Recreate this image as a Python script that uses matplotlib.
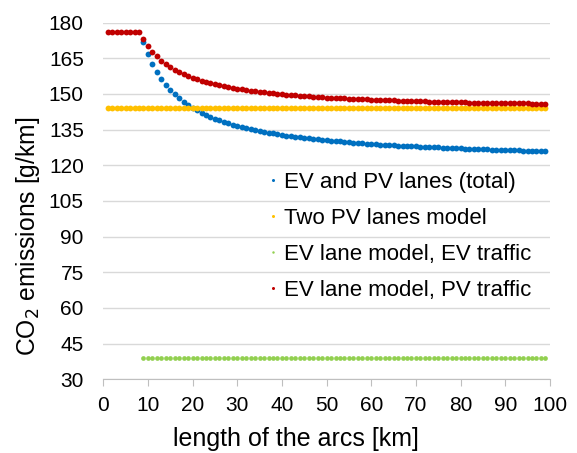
import matplotlib.pyplot as plt

plt.rcParams['font.family'] = ['Liberation Sans', 'DejaVu Sans']

# arc length [km]
x_flat = list(range(1, 9))
x_all = list(range(1, 100))
x_ev = list(range(9, 100))

# CO2 emissions [g/km]
red_flat = [176] * 8
two_pv = [144] * 99
ev_traffic = [39] * 91

total = [172.0, 166.9, 162.8, 159.3, 156.4, 153.9, 151.7, 149.8, 148.2, 146.7,
         145.3, 144.2, 143.1, 142.1, 141.2, 140.4, 139.6, 138.9, 138.3, 137.7,
         137.1, 136.6, 136.1, 135.6, 135.2, 134.8, 134.4, 134.0, 133.7, 133.4,
         133.1, 132.8, 132.5, 132.2, 132.0, 131.7, 131.5, 131.3, 131.1, 130.9,
         130.7, 130.5, 130.3, 130.2, 130.0, 129.8, 129.7, 129.5, 129.4, 129.2,
         129.1, 129.0, 128.9, 128.7, 128.6, 128.5, 128.4, 128.3, 128.2, 128.1,
         128.0, 127.9, 127.8, 127.7, 127.6, 127.5, 127.5, 127.4, 127.3, 127.2,
         127.2, 127.1, 127.0, 126.9, 126.9, 126.8, 126.8, 126.7, 126.6, 126.6,
         126.5, 126.5, 126.4, 126.3, 126.3, 126.2, 126.2, 126.1, 126.1, 126.0,
         126.0]

pv_traffic = [173.3, 170.3, 167.8, 165.8, 164.0, 162.5, 161.2, 160.1, 159.1, 158.2,
              157.4, 156.7, 156.1, 155.5, 154.9, 154.4, 154.0, 153.6, 153.2, 152.8,
              152.5, 152.2, 151.9, 151.6, 151.3, 151.1, 150.9, 150.7, 150.5, 150.3,
              150.1, 149.9, 149.7, 149.6, 149.4, 149.3, 149.1, 149.0, 148.9, 148.8,
              148.7, 148.5, 148.4, 148.3, 148.2, 148.1, 148.0, 148.0, 147.9, 147.8,
              147.7, 147.6, 147.6, 147.5, 147.4, 147.4, 147.3, 147.2, 147.2, 147.1,
              147.0, 147.0, 146.9, 146.9, 146.8, 146.8, 146.7, 146.7, 146.6, 146.6,
              146.5, 146.5, 146.5, 146.4, 146.4, 146.3, 146.3, 146.3, 146.2, 146.2,
              146.2, 146.1, 146.1, 146.1, 146.0, 146.0, 146.0, 145.9, 145.9, 145.9,
              145.8]

labels = ['EV and PV lanes (total)', 'Two PV lanes model',
          'EV lane model, EV traffic', 'EV lane model, PV traffic']
colors = ['#0070C0', '#FFC000', '#92D050', '#C00000']

fig = plt.figure(figsize=(5.77, 4.53), dpi=100)
ax = fig.add_axes([0.179, 0.163, 0.774, 0.787])

ms = 4.2
ax.plot(x_ev, total, 'o', color=colors[0], ms=ms, mew=0, label=labels[0], zorder=3)
ax.plot(x_all, two_pv, 'o', color=colors[1], ms=ms, mew=0, label=labels[1], zorder=3)
ax.plot(x_ev, ev_traffic, 'o', color=colors[2], ms=3.4, mew=0, label=labels[2], zorder=3)
ax.plot(x_flat + x_ev, red_flat + pv_traffic, 'o', color=colors[3], ms=ms, mew=0,
        label=labels[3], zorder=3)

ax.set_xlim(0, 100)
ax.set_ylim(30, 180)
ax.set_xticks(range(0, 101, 10))
ax.set_yticks(range(30, 181, 15))
ax.grid(axis='y', color='#D9D9D9', lw=1)
ax.set_axisbelow(True)
for s in ['top', 'right', 'left']:
    ax.spines[s].set_visible(False)
ax.spines['bottom'].set_color('#BFBFBF')
ax.tick_params(axis='x', direction='out', length=5, color='#BFBFBF', labelsize=15, pad=7)
ax.tick_params(axis='y', length=0, labelsize=15, pad=14)

ax.set_xlabel('length of the arcs [km]', fontsize=18)
ax.set_ylabel('CO$_2$ emissions [g/km]', fontsize=17.7)
ax.xaxis.set_label_coords(0.432, -0.135)
ax.yaxis.set_label_coords(-0.138, 0.402)

ax.legend(loc='upper left', bbox_to_anchor=(0.364, 0.581), frameon=False, fontsize=16,
          markerscale=0.52, handlelength=0.6, handletextpad=0.2, labelspacing=0.675,
          borderaxespad=0, borderpad=0)

fig.savefig('out.png', dpi=100)
